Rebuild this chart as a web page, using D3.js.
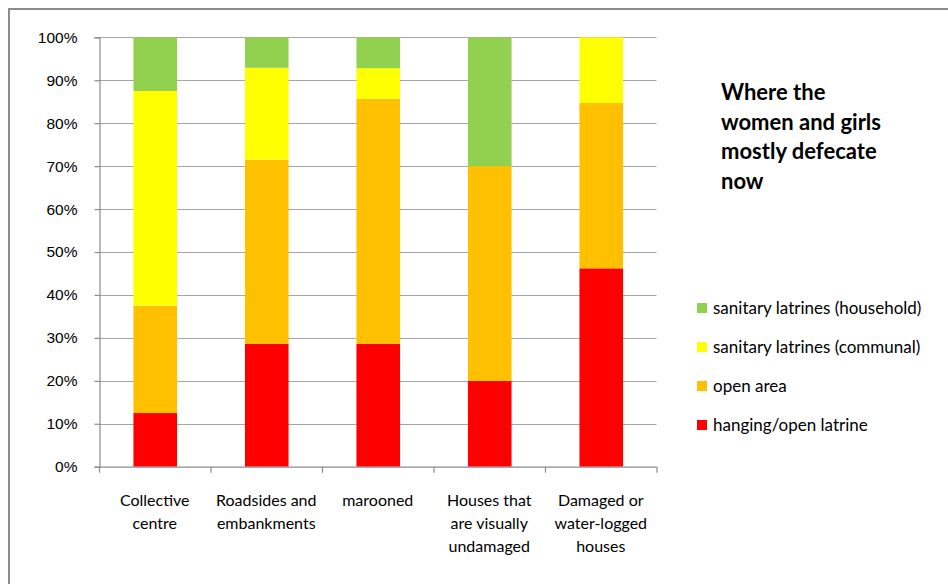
<!DOCTYPE html>
<html>
<head>
<meta charset="utf-8">
<script src="https://cdn.jsdelivr.net/npm/d3@7/dist/d3.min.js"></script>
<style>
  html, body { margin: 0; padding: 0; background: #fff; }
  svg { display: block; font-family: Lato, "Open Sans", sans-serif; }
</style>
</head>
<body>
<svg id="chart" width="948" height="584"></svg>
<script>
// Locations where respondents were staying
const categories = [
  ["Collective", "centre"],
  ["Roadsides and", "embankments"],
  ["marooned"],
  ["Houses that", "are visually", "undamaged"],
  ["Damaged or", "water-logged", "houses"]
];
// Share of women and girls per place of defecation (%), stacked bottom to top
const hangingOpenLatrine   = [12.5, 28.6, 28.6, 20.0, 46.2];
const openArea             = [25.0, 42.9, 57.1, 50.0, 38.5];
const sanitaryCommunal     = [50.0, 21.4,  7.1,  0.0, 15.3];
const sanitaryHousehold    = [12.5,  7.1,  7.2, 30.0,  0.0];
const seriesNames = ["hanging/open latrine", "open area", "sanitary latrines (communal)", "sanitary latrines (household)"];
const seriesColors = ["#FF0000", "#FFC000", "#FFFF00", "#92D050"];
const yTicks = [0, 10, 20, 30, 40, 50, 60, 70, 80, 90, 100];
const titleLines = ["Where the", "women and girls", "mostly defecate", "now"];

const svg = d3.select("#chart");
const plot = { left: 99, right: 656.5, top: 37.3, bottom: 466.7 };

// Outer chart frame (left and top edges visible)
svg.append("path")
  .attr("d", `M9,584 L9,9 L948,9`)
  .attr("fill", "none")
  .attr("stroke", "#8c8c8c")
  .attr("stroke-width", 2);

const keys = categories.map((c, i) => i);
const x = d3.scaleBand()
  .domain(keys)
  .range([plot.left, plot.right])
  .paddingInner(0.6)
  .paddingOuter(0.3);
const y = d3.scaleLinear().domain([0, 100]).range([plot.bottom, plot.top]);

// Horizontal gridlines
svg.append("g")
  .selectAll("line")
  .data(yTicks.filter(t => t > 0))
  .join("line")
  .attr("x1", plot.left).attr("x2", plot.right)
  .attr("y1", d => Math.round(y(d)) + 0.5).attr("y2", d => Math.round(y(d)) + 0.5)
  .attr("stroke", "#a6a6a6")
  .attr("stroke-width", 1.2);

// Y axis
const yAxis = svg.append("g")
  .attr("transform", `translate(${plot.left + 0.5},0)`)
  .call(d3.axisLeft(y).tickValues(yTicks).tickSize(5).tickPadding(17).tickFormat(d => d + "%"));
yAxis.select(".domain").attr("stroke", "#8c8c8c").attr("stroke-width", 1.2);
yAxis.selectAll(".tick line").attr("stroke", "#8c8c8c").attr("stroke-width", 1.2);
yAxis.selectAll("text").attr("font-size", 15.5).attr("fill", "#000");

// Stacked bars
const rows = keys.map(i => ({
  key: i,
  s0: hangingOpenLatrine[i],
  s1: openArea[i],
  s2: sanitaryCommunal[i],
  s3: sanitaryHousehold[i]
}));
const stack = d3.stack().keys(["s0", "s1", "s2", "s3"]);
const layers = stack(rows);

svg.append("g")
  .selectAll("g")
  .data(layers)
  .join("g")
  .attr("fill", (d, i) => seriesColors[i])
  .selectAll("rect")
  .data(d => d)
  .join("rect")
  .attr("x", d => x(d.data.key) + 1)
  .attr("width", x.bandwidth() - 1)
  .attr("y", d => y(d[1]))
  .attr("height", d => Math.max(0, y(d[0]) - y(d[1])));

// X axis baseline and category tick marks
const step = x.step();
const xAxisG = svg.append("g");
xAxisG.append("line")
  .attr("x1", plot.left).attr("x2", plot.right)
  .attr("y1", plot.bottom + 0.5).attr("y2", plot.bottom + 0.5)
  .attr("stroke", "#8c8c8c").attr("stroke-width", 1.2);
xAxisG.selectAll("line.tick")
  .data(d3.range(categories.length + 1))
  .join("line")
  .attr("class", "tick")
  .attr("x1", i => plot.left + i * step + 0.5).attr("x2", i => plot.left + i * step + 0.5)
  .attr("y1", plot.bottom).attr("y2", plot.bottom + 6)
  .attr("stroke", "#8c8c8c").attr("stroke-width", 1.2);

// Category labels
xAxisG.selectAll("text.cat")
  .data(categories)
  .join("text")
  .attr("class", "cat")
  .attr("text-anchor", "middle")
  .attr("font-size", 16)
  .attr("fill", "#000")
  .attr("transform", (d, i) => `translate(${x(i) + x.bandwidth() / 2},506)`)
  .selectAll("tspan")
  .data(d => d)
  .join("tspan")
  .attr("x", 0)
  .attr("y", (d, j) => j * 23)
  .text(d => d);

// Title block
svg.append("text")
  .attr("font-size", 22)
  .attr("font-weight", "bold")
  .attr("fill", "#000")
  .selectAll("tspan")
  .data(titleLines)
  .join("tspan")
  .attr("x", 721)
  .attr("y", (d, i) => 100 + i * 29.5)
  .text(d => d);

// Legend (top entry is the top of the stack)
const legendOrder = [3, 2, 1, 0];
const legend = svg.append("g");
const lg = legend.selectAll("g")
  .data(legendOrder)
  .join("g")
  .attr("transform", (d, i) => `translate(697,${308 + i * 39})`);
lg.append("rect")
  .attr("x", 0).attr("y", -5)
  .attr("width", 10).attr("height", 10)
  .attr("fill", d => seriesColors[d]);
lg.append("text")
  .attr("x", 16).attr("y", 5.5)
  .attr("font-size", 17)
  .attr("fill", "#000")
  .text(d => seriesNames[d]);
</script>
</body>
</html>
